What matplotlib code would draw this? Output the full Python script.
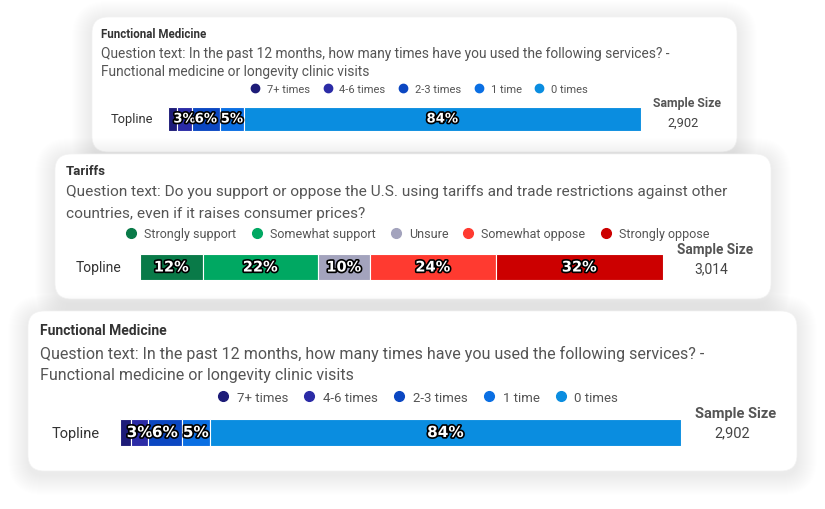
import matplotlib
matplotlib.use("Agg")
import matplotlib.pyplot as plt
import matplotlib.patheffects as pe
from matplotlib.patches import FancyBboxPatch
from matplotlib.lines import Line2D
from matplotlib import font_manager

W, H = 825, 510

# --- data -------------------------------------------------------------
fm_title = "Functional Medicine"
fm_question = ["Question text: In the past 12 months, how many times have you used the following services? -",
               "Functional medicine or longevity clinic visits"]
fm_labels = ["7+ times", "4-6 times", "2-3 times", "1 time", "0 times"]
fm_values = [2, 3, 6, 5, 84]
fm_colors = ["#1d1b78", "#2b2ba6", "#0b47c2", "#0a6fe3", "#0a8de0"]
fm_sample = "2,902"

tar_title = "Tariffs"
tar_question = ["Question text: Do you support or oppose the U.S. using tariffs and trade restrictions against other",
                "countries, even if it raises consumer prices?"]
tar_labels = ["Strongly support", "Somewhat support", "Unsure", "Somewhat oppose", "Strongly oppose"]
tar_values = [12, 22, 10, 24, 32]
tar_colors = ["#097a48", "#00a862", "#a3a3bd", "#ff3a30", "#cc0000"]
tar_sample = "3,014"

row_label = "Topline"

available = {f.name for f in font_manager.fontManager.ttflist}
FONT = "Liberation Sans Narrow" if "Liberation Sans Narrow" in available else "Roboto"
plt.rcParams["font.family"] = [FONT, "DejaVu Sans"]

fig = plt.figure(figsize=(W / 100, H / 100), dpi=100)
fig.patch.set_facecolor("white")
bg = fig.add_axes([0, 0, 1, 1])
bg.set_xlim(0, W)
bg.set_ylim(H, 0)
bg.axis("off")


def fig_box(x0, y0, x1, y1):
    return [x0 / W, 1 - y1 / H, (x1 - x0) / W, (y1 - y0) / H]


def card(x0, y0, x1, y1, z):
    # soft diffuse shadow
    for i in range(20, 0, -1):
        p = FancyBboxPatch((x0 - i * 1.0, y0 - i * 1.0 + 4), (x1 - x0) + i * 2.0, (y1 - y0) + i * 2.0,
                           boxstyle=f"round,pad=0,rounding_size={16 + i}",
                           fc="#000000", ec="none", alpha=0.0045, zorder=z)
        bg.add_patch(p)
    bg.add_patch(FancyBboxPatch((x0, y0), x1 - x0, y1 - y0, boxstyle="round,pad=0,rounding_size=16",
                                fc="white", ec="#f2f2f2", lw=0.5, zorder=z + 0.5))


def panel(c, title, question, labels, values, colors, sample, s):
    x0, y0, x1, y1 = c["card"]
    z = c["z"]
    card(x0, y0, x1, y1, z)
    bg.text(c["tx"], c["ty"], title, fontsize=s["title"], fontweight="bold", color="#333333",
            va="center", ha="left", zorder=z + 1)
    for line, qy in zip(question, c["qy"]):
        bg.text(c["tx"], qy, line, fontsize=s["q"], color="#555555", va="center", ha="left", zorder=z + 1)
    bg.text(c["toplx"], c["bary"], row_label, fontsize=s["top"], color="#333333",
            va="center", ha="center", zorder=z + 1)
    bg.text(c["ssx"], c["ssy"], "Sample Size", fontsize=s["ss"], fontweight="bold", color="#555555",
            va="center", ha="center", zorder=z + 1)
    bg.text(c["ssx"] - 4, c["ssy"] + 19, sample, fontsize=s["top"], color="#444444",
            va="center", ha="center", zorder=z + 1)

    bx0, bx1, by0, by1 = c["bar"]
    ax = fig.add_axes(fig_box(bx0, by0, bx1, by1))
    ax.set_xlim(0, sum(values))
    ax.set_ylim(-0.5, 0.5)
    ax.axis("off")
    left = 0
    for v, col in zip(values, colors):
        ax.barh(0, v, left=left, height=1, color=col, edgecolor="white", linewidth=0.8)
        if v >= 3:
            ax.text(left + v / 2, 0, f"{v}%", ha="center", va="center", color="white",
                    fontsize=s["bar"], fontweight="bold", family="DejaVu Sans",
                    path_effects=[pe.withStroke(linewidth=2.4, foreground="black")])
        left += v

    handles = [Line2D([], [], marker="o", ls="", color=col, markersize=s["mk"]) for col in colors]
    fig.legend(handles, labels, ncol=len(labels), loc="center", frameon=False,
               bbox_to_anchor=(c["lx"] / W, 1 - c["ly"] / H), fontsize=s["leg"],
               handletextpad=0.05, columnspacing=s["cs"], labelcolor="#555555", borderaxespad=0)


panel(dict(card=(92, 18, 737, 153), z=1, tx=101, ty=34, qy=(54, 72), toplx=132, bary=120,
           ssx=687, ssy=104, bar=(168, 641, 108, 132), lx=416, ly=90),
      fm_title, fm_question, fm_labels, fm_values, fm_colors, fm_sample,
      dict(title=8.3, q=9.9, top=9.3, ss=8.8, bar=9.5, mk=6, leg=8, cs=0.6))

panel(dict(card=(55, 155, 771, 300), z=3, tx=66, ty=172, qy=(192, 214), toplx=99, bary=268,
           ssx=715, ssy=250, bar=(140, 663, 255, 281), lx=414, ly=235),
      tar_title, tar_question, tar_labels, tar_values, tar_colors, tar_sample,
      dict(title=9.5, q=11.1, top=10, ss=9.8, bar=10.5, mk=7, leg=9, cs=0.6))

panel(dict(card=(28, 312, 797, 472), z=5, tx=40, ty=331, qy=(354, 376), toplx=76, bary=434,
           ssx=736, ssy=414, bar=(120, 681, 420, 447), lx=414, ly=398),
      fm_title, fm_question, fm_labels, fm_values, fm_colors, fm_sample,
      dict(title=10, q=11.5, top=10.5, ss=10.5, bar=11, mk=7, leg=9.5, cs=0.6))

fig.savefig("out.png", dpi=100)
